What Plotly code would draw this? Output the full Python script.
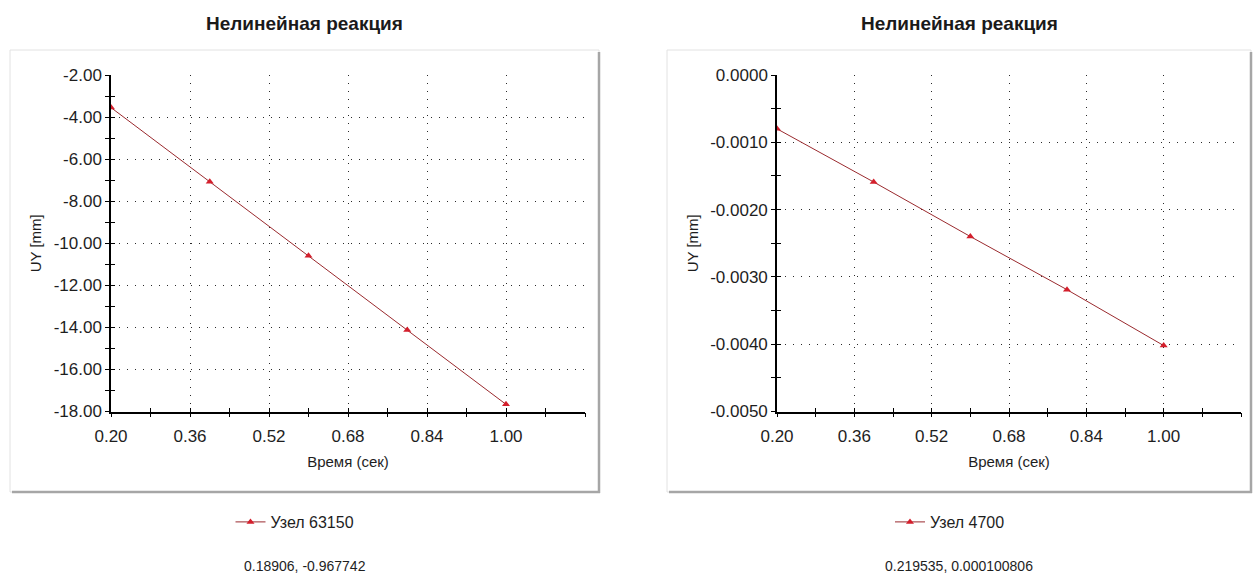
import plotly.graph_objects as go

# Load steps (time, s)
time_s = [0.2, 0.4, 0.6, 0.8, 1.0]

# Vertical displacement UY for the two nodes
uy_node_63150 = [-3.55, -7.08, -10.60, -14.13, -17.66]
uy_node_4700 = [-0.00080, -0.00159, -0.00240, -0.00319, -0.00402]

# Axis ticks and labels
x_ticks = [0.20, 0.36, 0.52, 0.68, 0.84, 1.00]
x_tick_labels = ["0.20", "0.36", "0.52", "0.68", "0.84", "1.00"]
x_range = [0.20, 1.16]

left_y_ticks = [-2, -4, -6, -8, -10, -12, -14, -16, -18]
left_y_labels = ["-2.00", "-4.00", "-6.00", "-8.00", "-10.00", "-12.00",
                 "-14.00", "-16.00", "-18.00"]
left_y_range = [-18, -2]

right_y_ticks = [0.0, -0.001, -0.002, -0.003, -0.004, -0.005]
right_y_labels = ["0.0000", "-0.0010", "-0.0020", "-0.0030", "-0.0040", "-0.0050"]
right_y_range = [-0.005, 0.0]

titles = ["Нелинейная реакция", "Нелинейная реакция"]
series_names = ["Узел 63150", "Узел 4700"]
cursor_texts = ["0.18906, -0.967742", "0.219535, 0.000100806"]

W, H = 1258, 574
FONT = "Liberation Sans, Arial, sans-serif"
LINE_COLOR = "#9a2a2e"
MARKER_COLOR = "#d41f2c"
GRID_DASH = "1px,7px"


def px(x):
    return x / W


def py(y):
    return 1 - y / H


fig = go.Figure()

fig.add_trace(go.Scatter(
    x=time_s, y=uy_node_63150, mode="lines+markers", name=series_names[0],
    line=dict(color=LINE_COLOR, width=1),
    marker=dict(symbol="triangle-up", size=7, color=MARKER_COLOR),
    xaxis="x", yaxis="y", legend="legend",
))
fig.add_trace(go.Scatter(
    x=time_s, y=uy_node_4700, mode="lines+markers", name=series_names[1],
    line=dict(color=LINE_COLOR, width=1),
    marker=dict(symbol="triangle-up", size=7, color=MARKER_COLOR),
    xaxis="x2", yaxis="y2", legend="legend2",
))
# empty traces that bind the overlay axes (inner half of crossing ticks)
fig.add_trace(go.Scatter(x=[], y=[], xaxis="x3", yaxis="y3", showlegend=False))
fig.add_trace(go.Scatter(x=[], y=[], xaxis="x4", yaxis="y4", showlegend=False))

tick_font = dict(family=FONT, size=17, color="#1e1e1e")
title_font = dict(family=FONT, size=15, color="#1e1e1e")

# plot-area geometry (pixels)
left_x = (111, 585)
right_x = (777, 1241)
plot_y = (75, 411.5)
y_dom = [py(plot_y[1]), py(plot_y[0])]


def x_axis(dom, anchor):
    return dict(
        domain=[px(dom[0]), px(dom[1])], range=x_range, anchor=anchor,
        tickmode="array", tickvals=x_ticks, ticktext=x_tick_labels,
        ticks="outside", ticklen=4, tickwidth=1, tickcolor="black",
        ticklabelstandoff=4,
        showline=True, linecolor="black", linewidth=1.5,
        showgrid=True, gridcolor="#2a2a2a", gridwidth=1, griddash=GRID_DASH,
        zeroline=False, tickfont=tick_font,
        minor=dict(dtick=0.08, tick0=0.2, ticks="outside", ticklen=4,
                   tickcolor="black", showgrid=False),
        title=dict(text="Время (сек)", font=title_font, standoff=12),
        fixedrange=True, automargin=False,
    )


def y_axis(ticks, labels, rng, minor_step, anchor):
    return dict(
        domain=y_dom, range=rng, anchor=anchor,
        tickmode="array", tickvals=ticks, ticktext=labels,
        ticks="outside", ticklen=4, tickwidth=1, tickcolor="black",
        ticklabelstandoff=0,
        showline=True, linecolor="black", linewidth=1.5,
        showgrid=True, gridcolor="#2a2a2a", gridwidth=1, griddash=GRID_DASH,
        zeroline=False, tickfont=tick_font,
        minor=dict(dtick=minor_step, tick0=rng[0], ticks="outside", ticklen=4,
                   tickcolor="black", showgrid=False),
        title=dict(text="UY [mm]", font=title_font, standoff=8),
        fixedrange=True, automargin=False,
    )


def overlay_x(base, dom, anchor):
    return dict(
        overlaying=base, domain=[px(dom[0]), px(dom[1])], range=x_range,
        anchor=anchor, tickmode="array", tickvals=x_ticks,
        ticks="inside", ticklen=4, tickcolor="black", showticklabels=False,
        showline=False, showgrid=False, zeroline=False,
        minor=dict(dtick=0.08, tick0=0.2, ticks="inside", ticklen=4,
                   tickcolor="black", showgrid=False),
        fixedrange=True, automargin=False,
    )


def overlay_y(base, ticks, rng, minor_step, anchor):
    return dict(
        overlaying=base, domain=y_dom, range=rng, anchor=anchor,
        tickmode="array", tickvals=ticks,
        ticks="inside", ticklen=4, tickcolor="black", showticklabels=False,
        showline=False, showgrid=False, zeroline=False,
        minor=dict(dtick=minor_step, tick0=rng[0], ticks="inside", ticklen=4,
                   tickcolor="black", showgrid=False),
        fixedrange=True, automargin=False,
    )


fig.update_layout(
    xaxis=x_axis(left_x, "y"),
    yaxis=y_axis(left_y_ticks, left_y_labels, left_y_range, 1, "x"),
    xaxis2=x_axis(right_x, "y2"),
    yaxis2=y_axis(right_y_ticks, right_y_labels, right_y_range, 0.0005, "x2"),
    xaxis3=overlay_x("x", left_x, "y3"),
    yaxis3=overlay_y("y", left_y_ticks, left_y_range, 1, "x3"),
    xaxis4=overlay_x("x2", right_x, "y4"),
    yaxis4=overlay_y("y2", right_y_ticks, right_y_range, 0.0005, "x4"),
)

# chart panels: light frame with a grey drop edge on the right and bottom
panels = [(10, 50, 599, 492), (667, 50, 1251, 492)]
shapes = []
for x0, y0, x1, y1 in panels:
    shapes.append(dict(type="rect", xref="paper", yref="paper",
                       x0=px(x0), x1=px(x1), y0=py(y1), y1=py(y0),
                       line=dict(color="#e2e2e2", width=1),
                       fillcolor="white", layer="below"))
    shapes.append(dict(type="line", xref="paper", yref="paper",
                       x0=px(x1), x1=px(x1), y0=py(y1 + 1), y1=py(y0 + 2),
                       line=dict(color="#a6a6a6", width=2.5), layer="below"))
    shapes.append(dict(type="line", xref="paper", yref="paper",
                       x0=px(x0 + 2), x1=px(x1 + 1), y0=py(y1), y1=py(y1),
                       line=dict(color="#a6a6a6", width=2.5), layer="below"))

annotations = []
for (x0, _, x1, _), title, cursor in zip(panels, titles, cursor_texts):
    cx = (x0 + x1) / 2
    annotations.append(dict(text=f"<b>{title}</b>", xref="paper", yref="paper",
                            x=px(cx), y=py(23), showarrow=False,
                            xanchor="center", yanchor="middle",
                            font=dict(family=FONT, size=19, color="#1a1a1a")))
    annotations.append(dict(text=cursor, xref="paper", yref="paper",
                            x=px(cx), y=py(566), showarrow=False,
                            xanchor="center", yanchor="middle",
                            font=dict(family=FONT, size=14, color="#1e1e1e")))

legend_style = dict(orientation="h", xanchor="center", yanchor="middle",
                    bgcolor="rgba(0,0,0,0)",
                    font=dict(family=FONT, size=16, color="#1e1e1e"))

fig.update_layout(
    width=W, height=H,
    margin=dict(l=0, r=0, t=0, b=0),
    paper_bgcolor="white", plot_bgcolor="rgba(0,0,0,0)",
    shapes=shapes, annotations=annotations,
    legend=dict(x=px(295), y=py(522), **legend_style),
    legend2=dict(x=px(950), y=py(522), **legend_style),
    showlegend=True,
)

fig.write_html("out.html", config={"displayModeBar": False})
